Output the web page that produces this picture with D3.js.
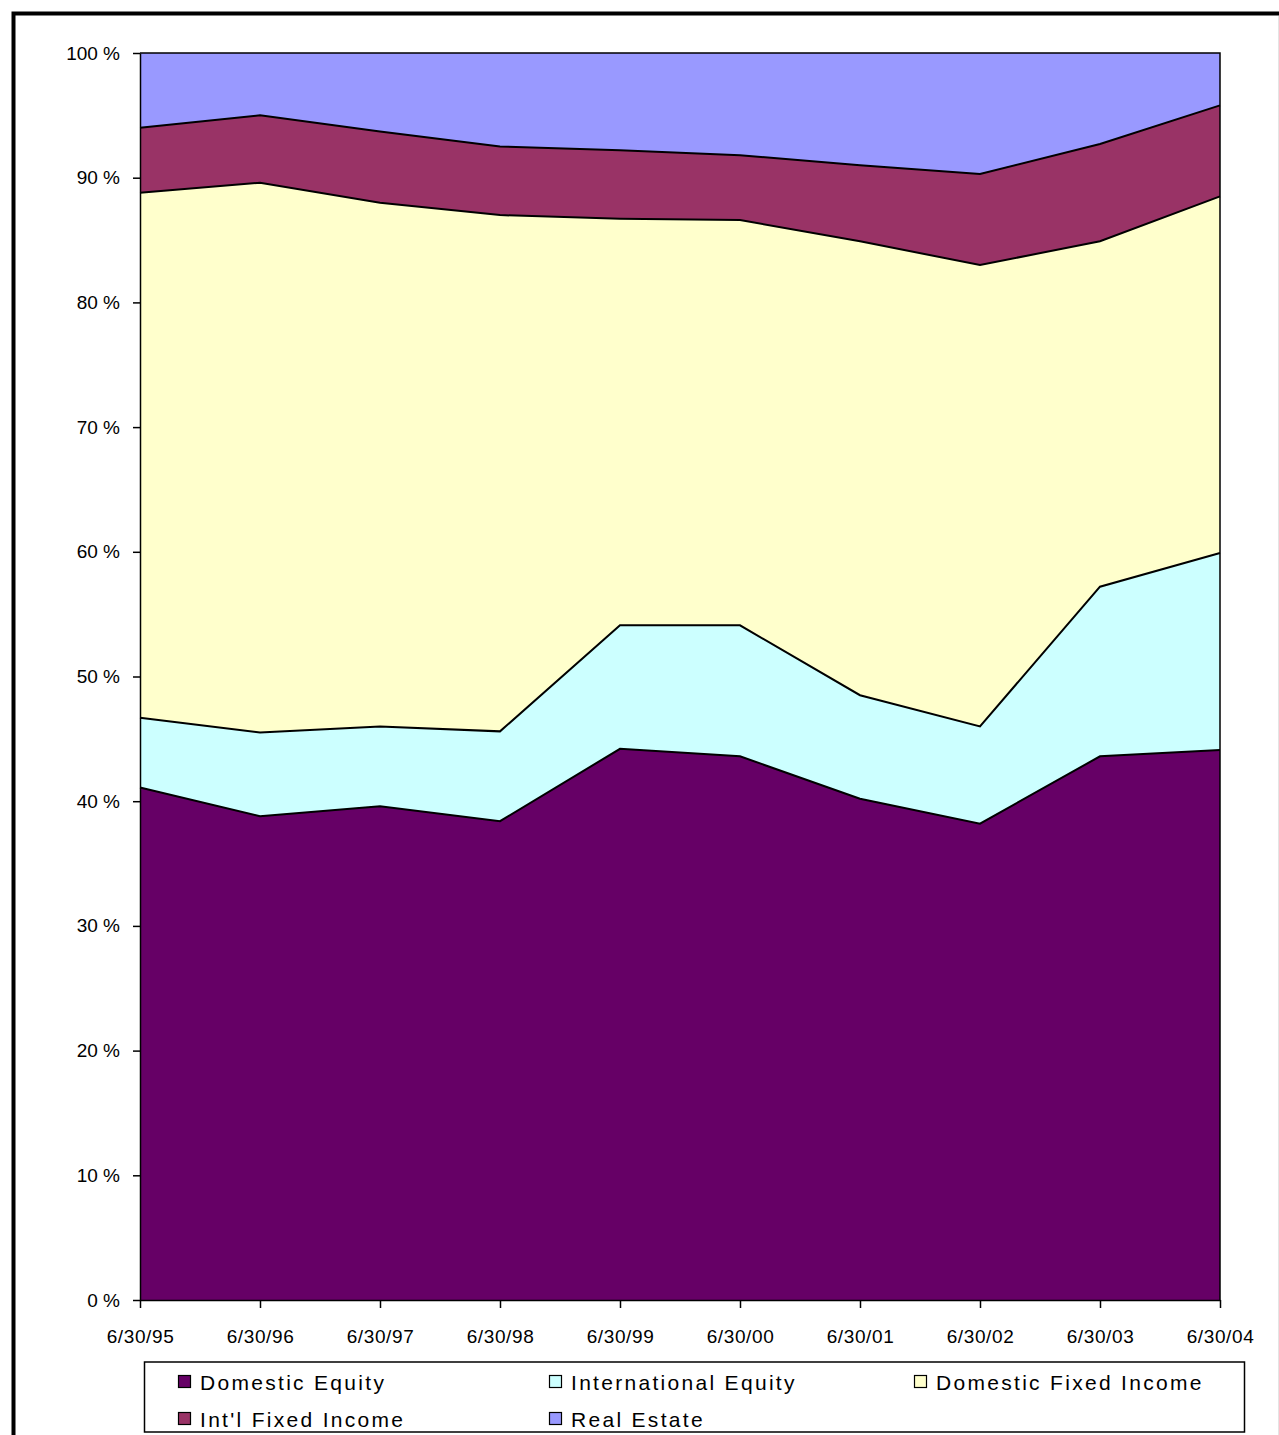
<!DOCTYPE html>
<html>
<head>
<meta charset="utf-8">
<script src="https://cdn.jsdelivr.net/npm/d3@7"></script>
<style>
  html, body { margin: 0; padding: 0; background: #fff; }
  svg { display: block; }
  text { font-family: Arial, "Liberation Sans", sans-serif; fill: #000; }
</style>
</head>
<body>
<svg id="chart" width="1279" height="1435"></svg>
<script>
// ---- data ----
const categories = ["6/30/95","6/30/96","6/30/97","6/30/98","6/30/99","6/30/00","6/30/01","6/30/02","6/30/03","6/30/04"];
const domesticEquity      = [41.1, 38.8, 39.6, 38.4, 44.2, 43.6, 40.2, 38.2, 43.6, 44.1];
const internationalEquity = [ 5.6,  6.7,  6.4,  7.2,  9.9, 10.5,  8.3,  7.8, 13.6, 15.8];
const domesticFixedIncome = [42.1, 44.1, 42.0, 41.4, 32.6, 32.5, 36.4, 37.0, 27.7, 28.6];
const intlFixedIncome     = [ 5.2,  5.4,  5.7,  5.5,  5.5,  5.2,  6.1,  7.3,  7.8,  7.3];
const realEstate          = [ 6.0,  5.0,  6.3,  7.5,  7.8,  8.2,  9.0,  9.7,  7.3,  4.2];
const seriesNames = ["Domestic Equity","International Equity","Domestic Fixed Income","Int'l Fixed Income","Real Estate"];
const seriesColors = ["#660066","#CCFFFF","#FFFFCC","#993366","#9999FF"];
const yTicks = [0,10,20,30,40,50,60,70,80,90,100];

// ---- build table ----
const seriesValues = [domesticEquity, internationalEquity, domesticFixedIncome, intlFixedIncome, realEstate];
const table = categories.map((c, i) => {
  const row = { cat: c };
  seriesNames.forEach((n, k) => row[n] = seriesValues[k][i]);
  return row;
});

const svg = d3.select("#chart");

// outer frame
svg.append("path")
  .attr("d", "M13.5,1440 L13.5,13.5 L1300,13.5")
  .attr("fill", "none").attr("stroke", "#000").attr("stroke-width", 4);
svg.append("line").attr("x1", 1278.5).attr("x2", 1278.5).attr("y1", 16).attr("y2", 1435)
  .attr("stroke", "#e4e4e4").attr("stroke-width", 1);

const x = d3.scalePoint().domain(categories).range([140, 1220]);
const y = d3.scaleLinear().domain([0, 100]).range([1300, 53]);

const stack = d3.stack().keys(seriesNames);
const layers = stack(table);

const area = d3.area()
  .x(d => x(d.data.cat))
  .y0(d => y(d[0]))
  .y1(d => y(d[1]));

const line = d3.line()
  .x(d => x(d.data.cat))
  .y(d => y(d[1]));

svg.append("g").selectAll("path.area")
  .data(layers).join("path")
  .attr("class", "area")
  .attr("d", area)
  .attr("fill", (d, i) => seriesColors[i]);

svg.append("g").selectAll("path.edge")
  .data(layers.slice(0, 4)).join("path")
  .attr("class", "edge")
  .attr("d", line)
  .attr("fill", "none")
  .attr("stroke", "#000")
  .attr("stroke-width", 2);

// plot area top and right border
svg.append("path")
  .attr("d", `M${x(categories[0])},${y(100)} L${x(categories[9])},${y(100)} L${x(categories[9])},${y(0)}`)
  .attr("fill", "none").attr("stroke", "#000").attr("stroke-width", 1.5);

// y axis
const yAxis = svg.append("g")
  .attr("transform", `translate(${x(categories[0])},0)`)
  .call(d3.axisLeft(y).tickValues(yTicks).tickFormat(d => d + " %").tickSize(7).tickPadding(13).tickSizeOuter(0));
yAxis.selectAll("text").style("font-size", "19px");
yAxis.selectAll("line, path").attr("stroke", "#000").attr("stroke-width", 1.5);

// x axis
const xAxis = svg.append("g")
  .attr("transform", `translate(0,${y(0)})`)
  .call(d3.axisBottom(x).tickSize(8).tickPadding(22).tickSizeOuter(0));
xAxis.selectAll("text").style("font-size", "19px").style("letter-spacing", "0.6px");
xAxis.selectAll("line, path").attr("stroke", "#000").attr("stroke-width", 1.5);

// legend
const lg = svg.append("g");
lg.append("rect")
  .attr("x", 144.5).attr("y", 1362).attr("width", 1100).attr("height", 70)
  .attr("fill", "#fff").attr("stroke", "#000").attr("stroke-width", 1.5);
const legendPos = [
  { x: 178, y: 1382 }, { x: 549, y: 1382 }, { x: 914, y: 1382 },
  { x: 178, y: 1419 }, { x: 549, y: 1419 }
];
seriesNames.forEach((n, i) => {
  const p = legendPos[i];
  lg.append("rect")
    .attr("x", p.x + 0.5).attr("y", p.y - 6.5).attr("width", 12).attr("height", 12)
    .attr("fill", seriesColors[i]).attr("stroke", "#000").attr("stroke-width", 1.2);
  lg.append("text")
    .attr("x", p.x + 22).attr("y", p.y).attr("dy", "0.36em")
    .style("font-size", "21px").style("letter-spacing", "2.3px")
    .text(n);
});
</script>
</body>
</html>
